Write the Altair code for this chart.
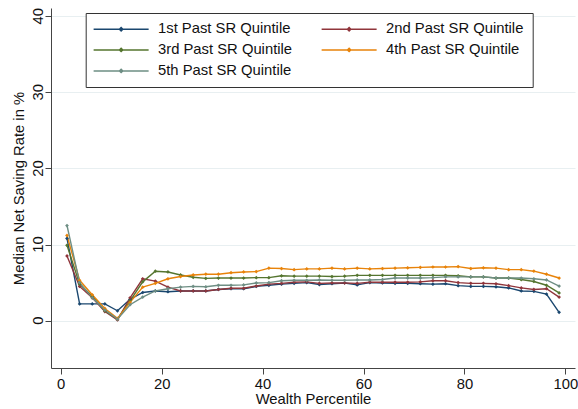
import altair as alt
import pandas as pd

percentile = [1.25 + 2.5 * k for k in range(40)]

series_names = [
    "1st Past SR Quintile",
    "2nd Past SR Quintile",
    "3rd Past SR Quintile",
    "4th Past SR Quintile",
    "5th Past SR Quintile",
]

q1 = [10.8, 2.2, 2.2, 2.2, 1.3, 2.8, 3.7, 3.9, 3.8, 3.9, 3.9,
      3.9, 4.1, 4.2, 4.2, 4.5, 4.65, 4.8, 4.9, 5.0, 4.75, 4.85, 4.95, 4.7, 5.0, 4.95, 4.9,
      4.9, 4.85, 4.8, 4.85, 4.6, 4.5, 4.5, 4.45, 4.3, 3.9, 3.85, 3.5, 1.1]
q2 = [8.5, 4.5, 3.0, 1.2, 0.1, 3.0, 5.5, 5.2, 4.4, 3.9, 3.9,
      3.9, 4.1, 4.25, 4.25, 4.55, 4.8, 4.9, 5.05, 5.1, 4.9, 4.95, 4.95, 4.9, 5.05, 5.05, 5.05,
      5.05, 5.1, 5.25, 5.25, 5.0, 4.9, 4.9, 4.85, 4.6, 4.3, 4.1, 4.2, 3.1]
q3 = [9.9, 4.8, 3.2, 1.3, 0.2, 2.6, 5.1, 6.5, 6.4, 6.0, 5.7,
      5.55, 5.6, 5.6, 5.6, 5.65, 5.65, 5.9, 5.85, 5.85, 5.85, 5.8, 5.85, 5.95, 5.95, 5.95, 5.95,
      5.95, 5.95, 5.95, 5.95, 5.9, 5.75, 5.75, 5.6, 5.6, 5.4, 5.15, 4.65, 3.65]
q4 = [11.2, 5.3, 3.4, 1.6, 0.3, 2.4, 4.4, 4.9, 5.5, 5.8, 6.0,
      6.1, 6.1, 6.3, 6.4, 6.45, 6.9, 6.85, 6.7, 6.8, 6.8, 6.9, 6.8, 6.9, 6.8, 6.85, 6.9,
      6.95, 7.0, 7.05, 7.05, 7.1, 6.85, 6.95, 6.9, 6.7, 6.7, 6.5, 6.1, 5.6]
q5 = [12.5, 5.0, 3.0, 1.4, 0.2, 2.1, 3.1, 3.9, 4.2, 4.4, 4.5,
      4.45, 4.65, 4.65, 4.7, 4.95, 5.0, 5.25, 5.3, 5.3, 5.35, 5.3, 5.3, 5.35, 5.35, 5.4, 5.6,
      5.6, 5.6, 5.65, 5.75, 5.75, 5.75, 5.75, 5.6, 5.6, 5.6, 5.5, 5.35, 4.55]

colors = ["#1a476f", "#90353b", "#55752f", "#e8830a", "#6e8e84"]

x_ticks = [0, 20, 40, 60, 80, 100]
y_ticks = [0, 10, 20, 30, 40]

rows = []
for name, vals in zip(series_names, [q1, q2, q3, q4, q5]):
    for p, v in zip(percentile, vals):
        rows.append({"pct": p, "rate": v, "series": name})
df = pd.DataFrame(rows)
ytick_df = pd.DataFrame({"rate": y_ticks, "label": [str(v) for v in y_ticks]})

FONT = "Liberation Sans"
FS = 14.8

y_scale = alt.Scale(domain=[-6.22, 41.08], nice=False, zero=False)

# legend symbol: a horizontal line with a tiny diamond in its middle
legend_symbol = "M-1.45,0H8.55M3.55,-0.3L3.85,0L3.55,0.3L3.25,0Z"

lines = (
    alt.Chart(df)
    .mark_line(
        strokeWidth=1.4,
        point=alt.OverlayMarkDef(shape="diamond", size=14, filled=True),
    )
    .encode(
        x=alt.X(
            "pct:Q",
            title="Wealth Percentile",
            scale=alt.Scale(domain=[-1.92, 101.9], nice=False, zero=False),
            axis=alt.Axis(values=x_ticks, grid=False, tickSize=6, labelPadding=2,
                          titlePadding=1, labelFlush=False),
        ),
        y=alt.Y(
            "rate:Q",
            title="Median Net Saving Rate in %",
            scale=y_scale,
            axis=alt.Axis(values=y_ticks, grid=True, tickSize=6, labels=False,
                          titleX=-32, titleBaseline="middle", labelFlush=False),
        ),
        color=alt.Color(
            "series:N",
            scale=alt.Scale(domain=series_names, range=colors),
            legend=alt.Legend(
                title=None,
                orient="none",
                legendX=34.7,
                legendY=5,
                columns=2,
                direction="horizontal",
                symbolType=legend_symbol,
                symbolSize=121,
                symbolStrokeWidth=1.5,
                labelFontSize=FS,
                labelFont=FONT,
                labelColor="#111",
                labelOffset=49,
                columnPadding=26,
                rowPadding=5,
                padding=8.5,
                strokeColor="#333",
                fillColor="white",
            ),
        ),
        order=alt.Order("pct:Q"),
    )
)

# rotated y tick labels, placed through the y scale
ylabels = (
    alt.Chart(ytick_df)
    .mark_text(angle=270, align="center", baseline="alphabetic", font=FONT,
               fontSize=FS, color="#111")
    .encode(
        y=alt.Y("rate:Q", scale=y_scale),
        x=alt.value(-8),
        text="label:N",
    )
)

chart = (
    alt.layer(lines, ylabels)
    .properties(
        width=524,
        height=360,
        autosize=alt.AutoSizeParams(type="none"),
        padding={"left": 51, "top": 8, "right": 3, "bottom": 41},
        background="white",
    )
    .configure_view(stroke=None)
    .configure_axis(
        labelFont=FONT,
        titleFont=FONT,
        labelFontSize=FS,
        titleFontSize=FS,
        titleFontWeight="normal",
        labelColor="#111",
        titleColor="#111",
        domainColor="#444",
        tickColor="#444",
        gridColor="#e8eff1",
        gridWidth=1,
    )
)

chart.save("out.html", embed_options={"renderer": "svg", "actions": False})
